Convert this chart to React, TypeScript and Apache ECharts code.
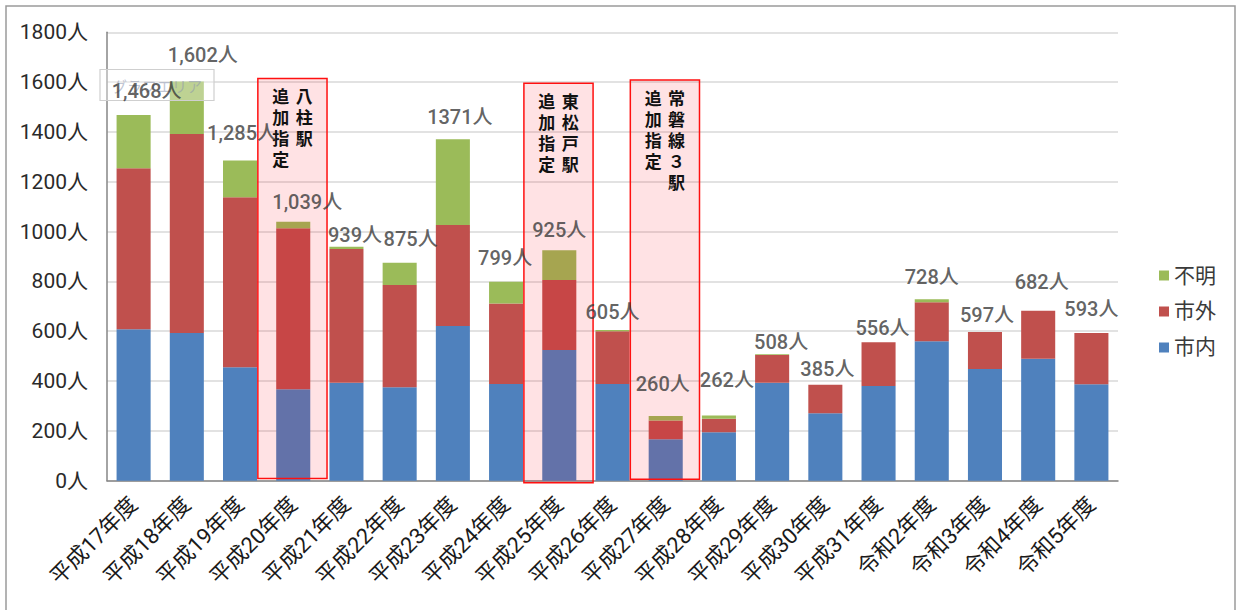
import React, { useEffect, useRef } from "react";
import * as echarts from "echarts";

const categories = [
  "平成17年度", "平成18年度", "平成19年度", "平成20年度", "平成21年度",
  "平成22年度", "平成23年度", "平成24年度", "平成25年度", "平成26年度",
  "平成27年度", "平成28年度", "平成29年度", "平成30年度", "平成31年度",
  "令和2年度", "令和3年度", "令和4年度", "令和5年度",
];
const shinai = [608, 593, 455, 367, 393, 375, 621, 388, 525, 388, 166, 194, 393, 271, 380, 560, 448, 490, 387];
const shigai = [646, 799, 683, 646, 537, 411, 405, 323, 281, 212, 76, 55, 112, 114, 176, 156, 149, 192, 206];
const fumei = [214, 210, 147, 26, 9, 89, 345, 88, 119, 5, 18, 13, 3, 0, 0, 12, 0, 0, 0];
const totalLabels = [
  "1,468人", "1,602人", "1,285人", "1,039人", "939人", "875人", "1371人", "799人", "925人",
  "605人", "260人", "262人", "508人", "385人", "556人", "728人", "597人", "682人", "593人",
];
const yTicks = [0, 200, 400, 600, 800, 1000, 1200, 1400, 1600, 1800];

// annotation boxes (added stations)
const boxCategories = ["平成20年度", "平成25年度", "平成27年度"];
const boxTopValue = [1615, 1595, 1609];
const boxBottomValue = [9, -8, 6];
const boxLeftCol = ["追加指定", "追加指定", "追加指定"];
const boxRightCol = ["八柱駅", "東松戸駅", "常磐線３駅"];

// label nudges (styling only)
const labelNudge: number[][] = [
  [13, -24.5], [16, -27], [2, -28], [14, -20], [8.5, -12], [11, -24], [7, -22.5],
  [-1, -24], [0, -20], [0, -18], [-3, -32], [8, -35], [9, -12.5], [2, -16], [4, -14],
  [0, -22], [2, -16.5], [3.5, -29], [0, -24],
];

const FONT = "Roboto, 'Noto Sans CJK JP', sans-serif";
const TXT = "#3a3a3a";

export default function App() {
  const ref = useRef<HTMLDivElement>(null);
  useEffect(() => {
    if (!ref.current) return;
    const chart = echarts.init(ref.current, null, { renderer: "svg" });
    const totals = categories.map((_, i) => shinai[i] + shigai[i] + fumei[i]);
    chart.setOption({
      animation: false,
      backgroundColor: "#ffffff",
      grid: { left: 107, right: 119, top: 32.3, bottom: 129.3 },
      legend: {
        data: ["不明", "市外", "市内"],
        orient: "vertical",
        left: 1154,
        top: 260,
        itemWidth: 10,
        itemHeight: 10,
        itemGap: 15,
        icon: "rect",
        textStyle: { fontSize: 21, color: TXT, fontFamily: FONT },
      },
      xAxis: {
        type: "category",
        data: categories,
        axisLine: { lineStyle: { color: "#868686", width: 1.5 } },
        axisTick: { show: false },
        axisLabel: {
          rotate: 45,
          interval: 0,
          margin: 20,
          fontSize: 22,
          color: "#1a1a1a",
          fontFamily: FONT,
        },
      },
      yAxis: {
        type: "value",
        min: yTicks[0],
        max: yTicks[yTicks.length - 1],
        interval: 200,
        axisLine: { show: true, lineStyle: { color: "#868686", width: 1.5 } },
        axisTick: { show: false },
        splitLine: { lineStyle: { color: "#D9D9D9", width: 1.5 } },
        axisLabel: {
          formatter: (v: number) => v + "人",
          fontSize: 21,
          color: "#2a2a2a",
          margin: 19,
          fontFamily: FONT,
        },
      },
      series: [
        {
          name: "市内",
          type: "bar",
          stack: "t",
          data: shinai,
          barWidth: "64%",
          itemStyle: { color: "#4F81BD" },
          z: 2,
        },
        {
          name: "市外",
          type: "bar",
          stack: "t",
          data: shigai,
          barWidth: "64%",
          itemStyle: { color: "#C0504D" },
          z: 2,
        },
        {
          name: "不明",
          type: "bar",
          stack: "t",
          data: fumei,
          barWidth: "64%",
          itemStyle: { color: "#9BBB59" },
          z: 2,
        },
        {
          name: "合計",
          type: "scatter",
          symbolSize: 0,
          z: 30,
          data: totals.map((t, i) => ({
            value: [i, t],
            label: { offset: labelNudge[i] },
          })),
          label: {
            show: true,
            position: "inside",
            formatter: (p: any) => totalLabels[p.dataIndex],
            fontSize: 20,
            fontWeight: 500,
            color: TXT,
            fontFamily: FONT,
          },
        },
      ],
    });

    const graphics: any[] = [];
    // outer frame
    graphics.push({
      type: "rect",
      shape: { x: 6, y: 6, width: 1229, height: 640 },
      style: { fill: "none", stroke: "#9a9a9a", lineWidth: 1.5 },
      z: 1,
      silent: true,
    });
    boxCategories.forEach((cat, k) => {
      const idx = categories.indexOf(cat);
      const pTop = chart.convertToPixel({ xAxisIndex: 0, yAxisIndex: 0 }, [idx, boxTopValue[k]]) as number[];
      const pBot = chart.convertToPixel({ xAxisIndex: 0, yAxisIndex: 0 }, [idx, boxBottomValue[k]]) as number[];
      const pNext = chart.convertToPixel({ xAxisIndex: 0, yAxisIndex: 0 }, [idx + 1, 0]) as number[];
      const band = pNext[0] - pTop[0];
      const w = band * 1.3;
      const cx = pTop[0] - 0.8;
      graphics.push({
        type: "rect",
        shape: { x: cx - w / 2, y: pTop[1], width: w, height: pBot[1] - pTop[1] },
        style: { fill: "rgba(255,0,20,0.115)", stroke: "#FF1010", lineWidth: 1.5 },
        z: 15,
        silent: true,
      });
      const colStyle = (txt: string) => ({
        text: txt.split("").join("\n"),
        fill: "#111",
        font: "bold 17px 'Noto Sans CJK JP', sans-serif",
        lineHeight: 21,
        align: "center",
        verticalAlign: "top",
      });
      graphics.push({
        type: "text",
        x: cx + band * 0.22,
        y: pTop[1] + 7,
        style: colStyle(boxRightCol[k]),
        z: 16,
        silent: true,
      });
      graphics.push({
        type: "text",
        x: cx - band * 0.22,
        y: pTop[1] + 7,
        style: colStyle(boxLeftCol[k]),
        z: 16,
        silent: true,
      });
    });
    // faint Excel tooltip ghost
    graphics.push({
      type: "rect",
      shape: { x: 100, y: 69.5, width: 114, height: 31 },
      style: { fill: "rgba(255,255,255,0.35)", stroke: "#cfcfcf", lineWidth: 1.2 },
      z: 25,
      silent: true,
    });
    graphics.push({
      type: "text",
      x: 112,
      y: 85,
      style: {
        text: "グラフエリア",
        fill: "rgba(140,150,175,0.55)",
        font: "15px 'Noto Sans CJK JP', sans-serif",
        verticalAlign: "middle",
      },
      z: 26,
      silent: true,
    });
    chart.setOption({ graphic: graphics });

    return () => chart.dispose();
  }, []);
  return (
    <div
      ref={ref}
      style={{ position: "fixed", left: 0, top: 0, width: 1237, height: 610, background: "#fff" }}
    />
  );
}
